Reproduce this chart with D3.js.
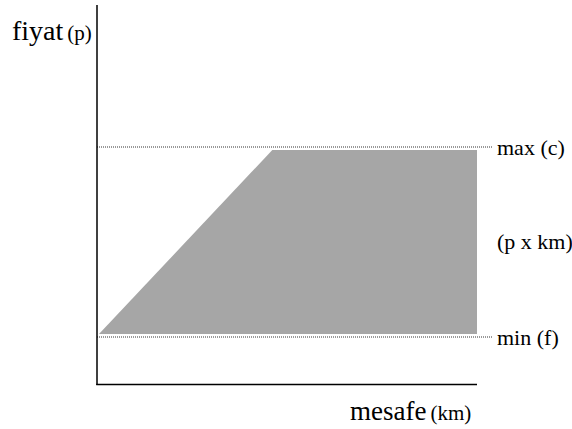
<!DOCTYPE html>
<html><head><meta charset="utf-8">
<script src="https://cdn.jsdelivr.net/npm/d3@7"></script>
<style>body{margin:0;background:#fff}svg{display:block}</style>
</head><body>
<svg id="c" width="572" height="429"></svg>
<script>
// distance (fraction of axis, km) and price level (0 = min f, 1 = max c)
const distance = [0, 46, 100, 100];
const price = [0, 1, 1, 0];
const levels = [ {name: "max (c)", value: 1}, {name: "min (f)", value: 0} ];
const areaLabel = "(p x km)";
const yTitle = ["fiyat", "(p)"];
const xTitle = ["mesafe", "(km)"];

const svg = d3.select("#c");
const x = d3.scaleLinear().domain([0, 100]).range([98, 477]);
const y = d3.scaleLinear().domain([0, 1]).range([337, 147]);
const inset = 3;

// shaded region
const pts = distance.map((d, i) => [x(d) + (i === 0 ? 1 : 0), y(price[i]) + (price[i] === 1 ? inset : -inset)]);
svg.append("path")
  .attr("d", d3.line()(pts) + "Z")
  .attr("fill", "#a6a6a6");

// dotted reference lines
levels.forEach(l => {
  svg.append("line")
    .attr("x1", 97).attr("x2", 492)
    .attr("y1", y(l.value)).attr("y2", y(l.value))
    .attr("stroke", "#333").attr("stroke-width", 1)
    .attr("stroke-dasharray", "1,1");
  svg.append("text")
    .attr("x", 497).attr("y", y(l.value) + 8)
    .attr("font-family", "Liberation Serif, Times New Roman, serif")
    .attr("font-size", 22).attr("fill", "#000")
    .text(l.name);
});
svg.append("text")
  .attr("x", 497).attr("y", y(0.5) + 7)
  .attr("font-family", "Liberation Serif, Times New Roman, serif")
  .attr("font-size", 22).attr("fill", "#000")
  .text(areaLabel);

// axes
svg.append("line").attr("x1", 97).attr("x2", 97).attr("y1", 5).attr("y2", 385)
  .attr("stroke", "#000").attr("stroke-width", 1.5);
svg.append("line").attr("x1", 96.25).attr("x2", 477).attr("y1", 384.5).attr("y2", 384.5)
  .attr("stroke", "#000").attr("stroke-width", 1.5);

// titles
const yt = svg.append("text").attr("x", 12).attr("y", 40)
  .attr("font-family", "Liberation Serif, Times New Roman, serif").attr("fill", "#000");
yt.append("tspan").attr("font-size", 28).text(yTitle[0]);
yt.append("tspan").attr("font-size", 21).attr("dx", 4).text(yTitle[1]);

const xt = svg.append("text").attr("x", 350).attr("y", 420)
  .attr("font-family", "Liberation Serif, Times New Roman, serif").attr("fill", "#000");
xt.append("tspan").attr("font-size", 27).text(xTitle[0]);
xt.append("tspan").attr("font-size", 21).attr("dx", 4).text(xTitle[1]);
</script>
</body></html>
